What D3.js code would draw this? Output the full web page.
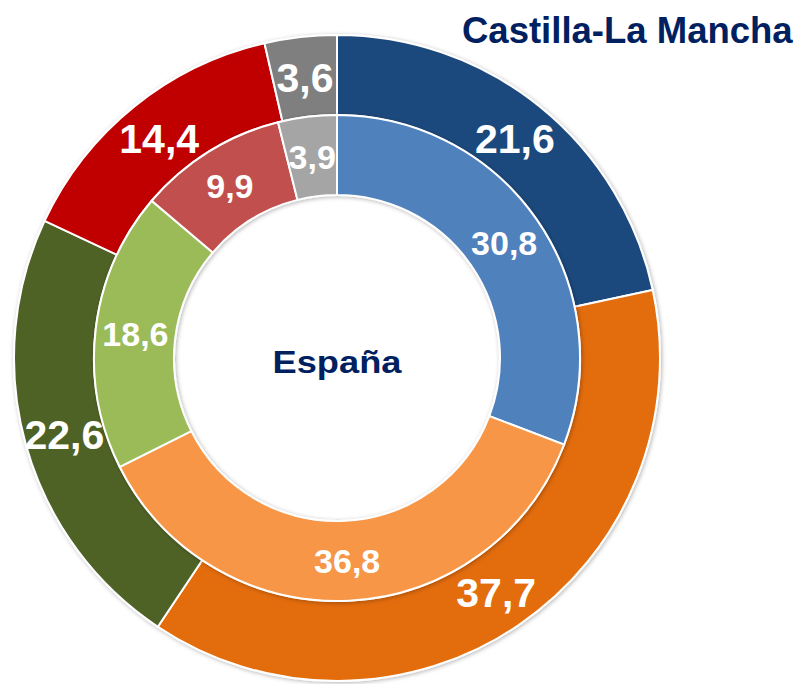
<!DOCTYPE html>
<html>
<head>
<meta charset="utf-8">
<script src="https://cdn.jsdelivr.net/npm/d3@7"></script>
<style>
  body { margin: 0; background: #fff; }
  .lbl { font-family: "Liberation Sans", Arial, sans-serif; font-weight: bold; fill: #fff; }
  .ttl { font-family: "Liberation Sans", Arial, sans-serif; font-weight: bold; fill: #002060; }
</style>
</head>
<body>
<div id="chart"></div>
<script>
// Width and height of the picture
var width = 799;
var height = 684;

// data
var categories = ["A", "B", "C", "D", "E"];
var castillaValues = [21.6, 37.7, 22.6, 14.4, 3.6];   // outer ring
var espanaValues = [30.8, 36.8, 18.6, 9.9, 3.9];      // inner ring
var castillaLabels = ["21,6", "37,7", "22,6", "14,4", "3,6"];
var espanaLabels = ["30,8", "36,8", "18,6", "9,9", "3,9"];

var outerColors = ["#1F497D", "#E36C0A", "#4F6228", "#C00000", "#7F7F7F"];
var innerColors = ["#4F81BD", "#F79646", "#9BBB59", "#C0504D", "#A5A5A5"];

var cx = 337, cy = 358;

var svg = d3.select("#chart").append("svg")
  .attr("width", width)
  .attr("height", height);

// soft shadow like the office chart
var defs = svg.append("defs");
var f = defs.append("filter").attr("id", "shadow")
  .attr("x", "-10%").attr("y", "-10%").attr("width", "120%").attr("height", "120%");
f.append("feDropShadow")
  .attr("dx", 1).attr("dy", 1).attr("stdDeviation", 2)
  .attr("flood-color", "#000").attr("flood-opacity", 0.3);

var pie = d3.pie().sort(null).value(function(d) { return d; });

var outerArc = d3.arc().innerRadius(243).outerRadius(323);
var innerArc = d3.arc().innerRadius(163).outerRadius(243);
var outerLabelArc = d3.arc().innerRadius(283).outerRadius(283);
var innerLabelArc = d3.arc().innerRadius(203).outerRadius(203);

var g = svg.append("g").attr("transform", "translate(" + cx + "," + cy + ")");

function ring(values, arc, colors, labels, labelArc, fontSize) {
  var arcs = pie(values);
  var rg = g.append("g").attr("filter", "url(#shadow)");
  rg.selectAll("path")
    .data(arcs)
    .enter()
    .append("path")
    .attr("d", arc)
    .style("fill", function(d, i) { return colors[i]; })
    .style("stroke", "#fff")
    .style("stroke-width", 2);
  g.append("g").selectAll("text")
    .data(arcs)
    .enter()
    .append("text")
    .attr("class", "lbl")
    .attr("transform", function(d) { return "translate(" + labelArc.centroid(d) + ")"; })
    .attr("text-anchor", "middle")
    .attr("dy", "0.36em")
    .style("font-size", fontSize + "px")
    .text(function(d, i) { return labels[i]; });
}

ring(castillaValues, outerArc, outerColors, castillaLabels, outerLabelArc, 41);
ring(espanaValues, innerArc, innerColors, espanaLabels, innerLabelArc, 34);

// titles
svg.append("text")
  .attr("class", "ttl")
  .attr("x", 462)
  .attr("y", 43)
  .style("font-size", "36.5px")
  .text("Castilla-La Mancha");

svg.append("text")
  .attr("class", "ttl")
  .attr("x", cx - 64.5)
  .attr("y", 373)
  .attr("textLength", 129)
  .attr("lengthAdjust", "spacingAndGlyphs")
  .style("font-size", "32px")
  .text("España");
</script>
</body>
</html>
